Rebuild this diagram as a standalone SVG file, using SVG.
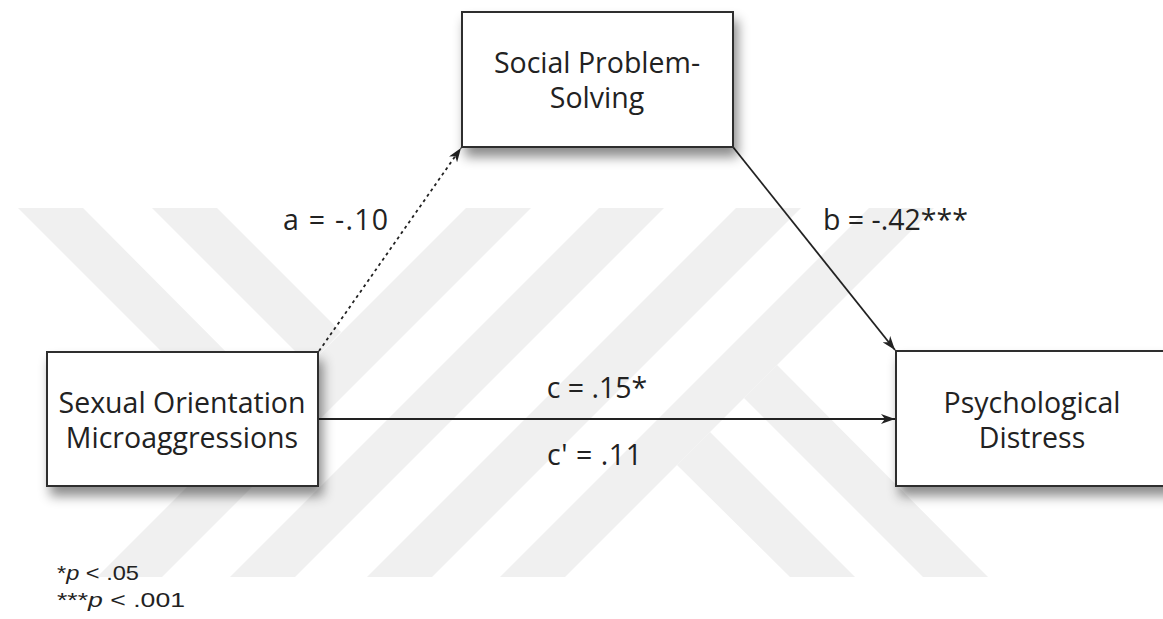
<svg xmlns="http://www.w3.org/2000/svg" width="1163" height="619" viewBox="0 0 1163 619">
  <style>
    .wm { fill: #f0f0f0; }
    .box { fill: #ffffff; stroke: #2e2e2e; stroke-width: 2; }
    .node-text { font-family: "Open Sans", "Noto Sans", sans-serif; font-size: 28.5px; fill: #222222; text-anchor: middle; }
    .label { font-family: "Open Sans", "Noto Sans", sans-serif; font-size: 28.5px; fill: #222222; }
    .note { font-family: "Liberation Sans", Arial, sans-serif; font-size: 21px; fill: #222222; }
    .edge { fill: none; stroke: #222222; stroke-width: 1.8; }
  </style>
  <defs>
    <marker id="arrow" viewBox="0 0 14 10" refX="14" refY="5" markerWidth="14" markerHeight="10" markerUnits="userSpaceOnUse" orient="auto">
      <path d="M0,0 L14,5 L0,10 L4,5 z" fill="#222222" stroke="none"/>
    </marker>
    <filter id="shadow" x="-20%" y="-20%" width="140%" height="160%">
      <feDropShadow dx="4" dy="9" stdDeviation="6" flood-color="#000000" flood-opacity="0.45"/>
    </filter>
  </defs>

  <rect x="0" y="0" width="1163" height="619" fill="#ffffff"/>

  <g id="watermark">
    <polygon class="wm" points="18,208 83,208 274,400 242,432"/>
    <polygon class="wm" points="152,208 217,208 341,332 309,365"/>
    <polygon class="wm" points="466,208 531,208 162,577 97,577"/>
    <polygon class="wm" points="599,208 664,208 295,577 230,577"/>
    <polygon class="wm" points="736,208 801,208 432,577 367,577"/>
    <polygon class="wm" points="869,208 934,208 565,577 500,577"/>
    <polygon class="wm" points="777,365 744,398 923,577 988,577"/>
    <polygon class="wm" points="710,432 677,465 790,577 855,577"/>
  </g>

  <g id="connectors">
    <line class="edge" x1="319" y1="351" x2="461" y2="148" stroke-dasharray="3 3.5" marker-end="url(#arrow)"/>
    <line class="edge" x1="733" y1="147" x2="895" y2="350" marker-end="url(#arrow)"/>
    <line class="edge" x1="319" y1="419" x2="895" y2="419" marker-end="url(#arrow)"/>
    <text class="label" x="283" y="230" textLength="105">a = -.10</text>
    <text class="label" x="823" y="230">b = -.42***</text>
    <text class="label" x="597" y="398" text-anchor="middle">c = .15*</text>
    <text class="label" x="547" y="465" textLength="95">c' = .11</text>
  </g>

  <g id="node-social">
    <rect class="box" x="462" y="12" width="271" height="135" filter="url(#shadow)"/>
    <text class="node-text" x="597" y="73">Social Problem-</text>
    <text class="node-text" x="597" y="108">Solving</text>
  </g>

  <g id="node-som">
    <rect class="box" x="47" y="352" width="271" height="134" filter="url(#shadow)"/>
    <text class="node-text" x="182" y="413">Sexual Orientation</text>
    <text class="node-text" x="182" y="448">Microaggressions</text>
  </g>

  <g id="node-distress">
    <rect class="box" x="896" y="351" width="280" height="135" filter="url(#shadow)"/>
    <text class="node-text" x="1032" y="413">Psychological</text>
    <text class="node-text" x="1032" y="448">Distress</text>
  </g>

  <g id="notes">
    <text class="note" x="57" y="580" textLength="82" lengthAdjust="spacingAndGlyphs">*<tspan font-style="italic">p</tspan> &lt; .05</text>
    <text class="note" x="57" y="607" textLength="128" lengthAdjust="spacingAndGlyphs">***<tspan font-style="italic">p</tspan> &lt; .001</text>
  </g>
</svg>
